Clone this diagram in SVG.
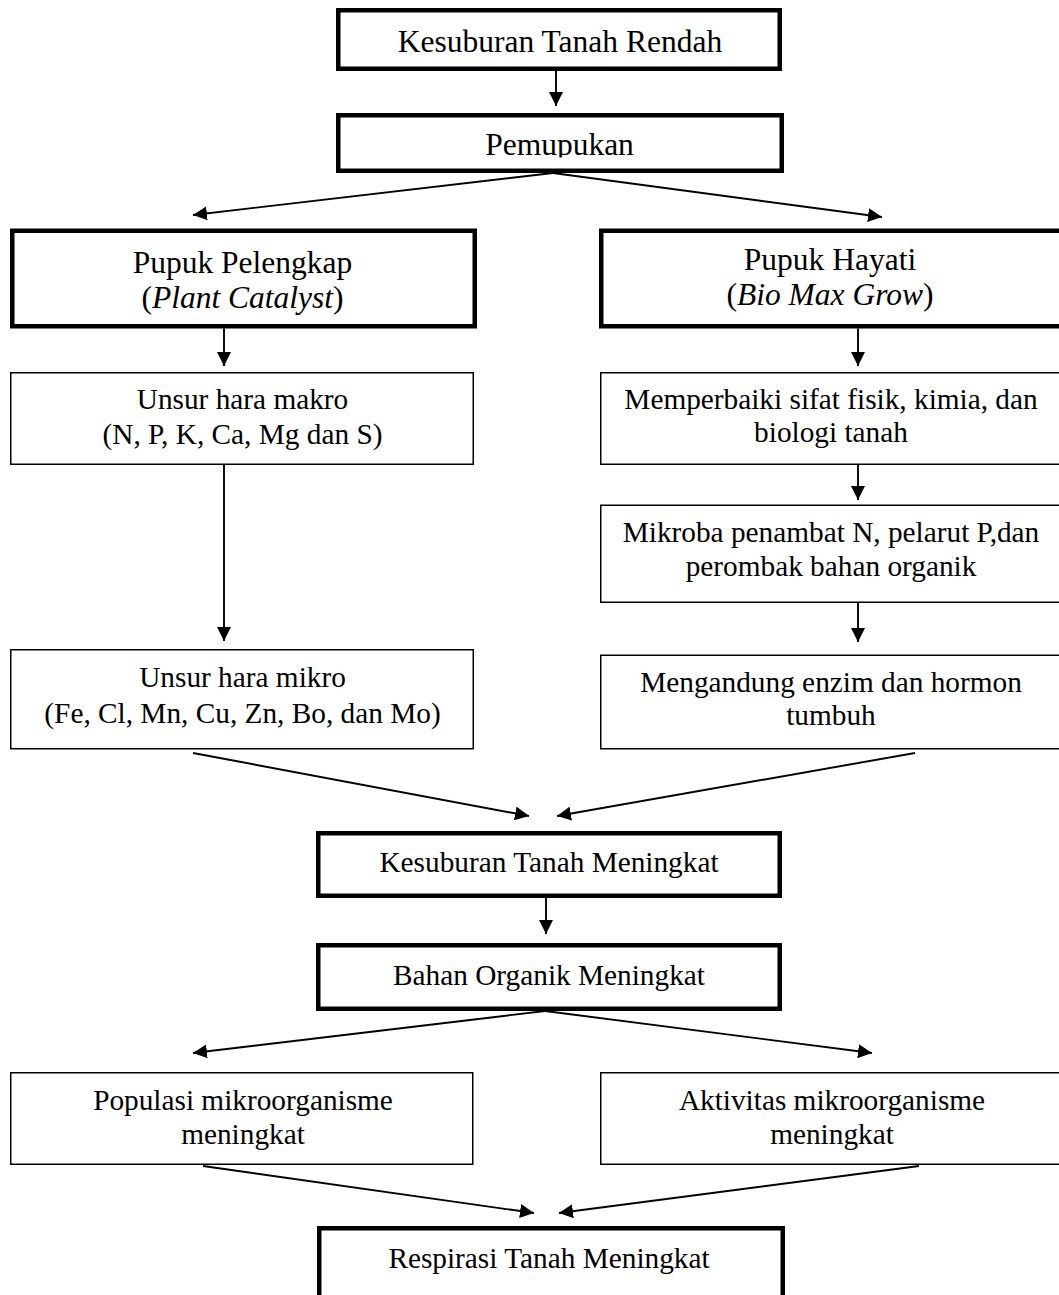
<svg xmlns="http://www.w3.org/2000/svg" width="1059" height="1295" viewBox="0 0 1059 1295">
<style>
.thick{fill:#fff;stroke:#000;stroke-width:4.5}
.thin{fill:#fff;stroke:#000;stroke-width:1.5}
.big{font-family:"Liberation Serif","Times New Roman",serif;font-size:31.5px;fill:#000;text-anchor:middle}
.t{font-family:"Liberation Serif","Times New Roman",serif;font-size:29.3px;fill:#000;text-anchor:middle}
.c line{stroke:#000;stroke-width:1.9;marker-end:url(#ah)}
</style>
<defs>
<marker id="ah" markerUnits="userSpaceOnUse" markerWidth="14" markerHeight="14" refX="14" refY="7" orient="auto">
<path d="M0,0 L14,7 L0,14 z" fill="#000"/>
</marker>
<clipPath id="pclip"><rect x="330" y="100" width="460" height="57.5"/></clipPath>
</defs>
<rect width="1059" height="1295" fill="#fff"/>
<g class="c" id="connectors">
<line x1="556" y1="71" x2="556" y2="106"/>
<line x1="553" y1="173" x2="193" y2="215"/>
<line x1="553" y1="173" x2="882" y2="217"/>
<line x1="224" y1="328.5" x2="224" y2="366"/>
<line x1="224" y1="465" x2="224" y2="641"/>
<line x1="858" y1="328.5" x2="858" y2="366"/>
<line x1="858" y1="465" x2="858" y2="500"/>
<line x1="858" y1="603" x2="858" y2="642"/>
<line x1="193" y1="753" x2="529" y2="816"/>
<line x1="915" y1="753" x2="557" y2="816"/>
<line x1="546" y1="898" x2="546" y2="934"/>
<line x1="545" y1="1011" x2="193" y2="1053"/>
<line x1="545" y1="1011" x2="872" y2="1053"/>
<line x1="203" y1="1166" x2="534" y2="1213"/>
<line x1="919" y1="1166" x2="559" y2="1213"/>
</g>
<g id="n1"><rect class="thick" x="338.25" y="10.25" width="441.5" height="58.5"/><text class="big" x="560" y="52">Kesuburan Tanah Rendah</text></g>
<g id="n2"><rect class="thick" x="338.25" y="115.25" width="443.5" height="55.5"/><text class="big" x="559.5" y="155" clip-path="url(#pclip)">Pemupukan</text></g>
<g id="n3"><rect class="thick" x="12.25" y="230.75" width="462.5" height="95.5"/><text class="big" x="242.5" y="273">Pupuk Pelengkap</text><text class="big" x="242.5" y="308">(<tspan font-style="italic">Plant Catalyst</tspan>)</text></g>
<g id="n4"><rect class="thick" x="601.25" y="230.75" width="470" height="95.5"/><text class="big" x="830" y="270">Pupuk Hayati</text><text class="big" x="830" y="305">(<tspan font-style="italic">Bio Max Grow</tspan>)</text></g>
<g id="n5"><rect class="thin" x="10.75" y="372.75" width="462.5" height="91.5"/><text class="t" x="242.5" y="409">Unsur hara makro</text><text class="t" x="242.5" y="443.5">(N, P, K, Ca, Mg dan S)</text></g>
<g id="n6"><rect class="thin" x="600.75" y="372.75" width="470" height="91.5"/><text class="t" x="831" y="409">Memperbaiki sifat fisik, kimia, dan</text><text class="t" x="831" y="442">biologi tanah</text></g>
<g id="n7"><rect class="thin" x="600.75" y="505.25" width="470" height="97"/><text class="t" x="831" y="542">Mikroba penambat N, pelarut P,dan</text><text class="t" x="831" y="576">perombak bahan organik</text></g>
<g id="n8"><rect class="thin" x="10.75" y="649.75" width="462.5" height="99"/><text class="t" x="242.5" y="686.5">Unsur hara mikro</text><text class="t" x="242.5" y="722.5">(Fe, Cl, Mn, Cu, Zn, Bo, dan Mo)</text></g>
<g id="n9"><rect class="thin" x="600.75" y="655.25" width="470" height="93.5"/><text class="t" x="831" y="691.5">Mengandung enzim dan hormon</text><text class="t" x="831" y="724.5">tumbuh</text></g>
<g id="n10"><rect class="thick" x="318.25" y="833.25" width="461.5" height="62.5"/><text class="t" x="549" y="872">Kesuburan Tanah Meningkat</text></g>
<g id="n11"><rect class="thick" x="318.25" y="945.25" width="461.5" height="63.5"/><text class="t" x="549" y="985">Bahan Organik Meningkat</text></g>
<g id="n12"><rect class="thin" x="10.75" y="1072.75" width="462" height="91.5"/><text class="t" x="243" y="1110">Populasi mikroorganisme</text><text class="t" x="243" y="1144">meningkat</text></g>
<g id="n13"><rect class="thin" x="600.75" y="1072.75" width="470" height="91.5"/><text class="t" x="832" y="1110">Aktivitas mikroorganisme</text><text class="t" x="832" y="1144">meningkat</text></g>
<g id="n14"><rect class="thick" x="319.25" y="1228.25" width="463.5" height="90"/><text class="t" x="549" y="1268">Respirasi Tanah Meningkat</text></g>
</svg>
